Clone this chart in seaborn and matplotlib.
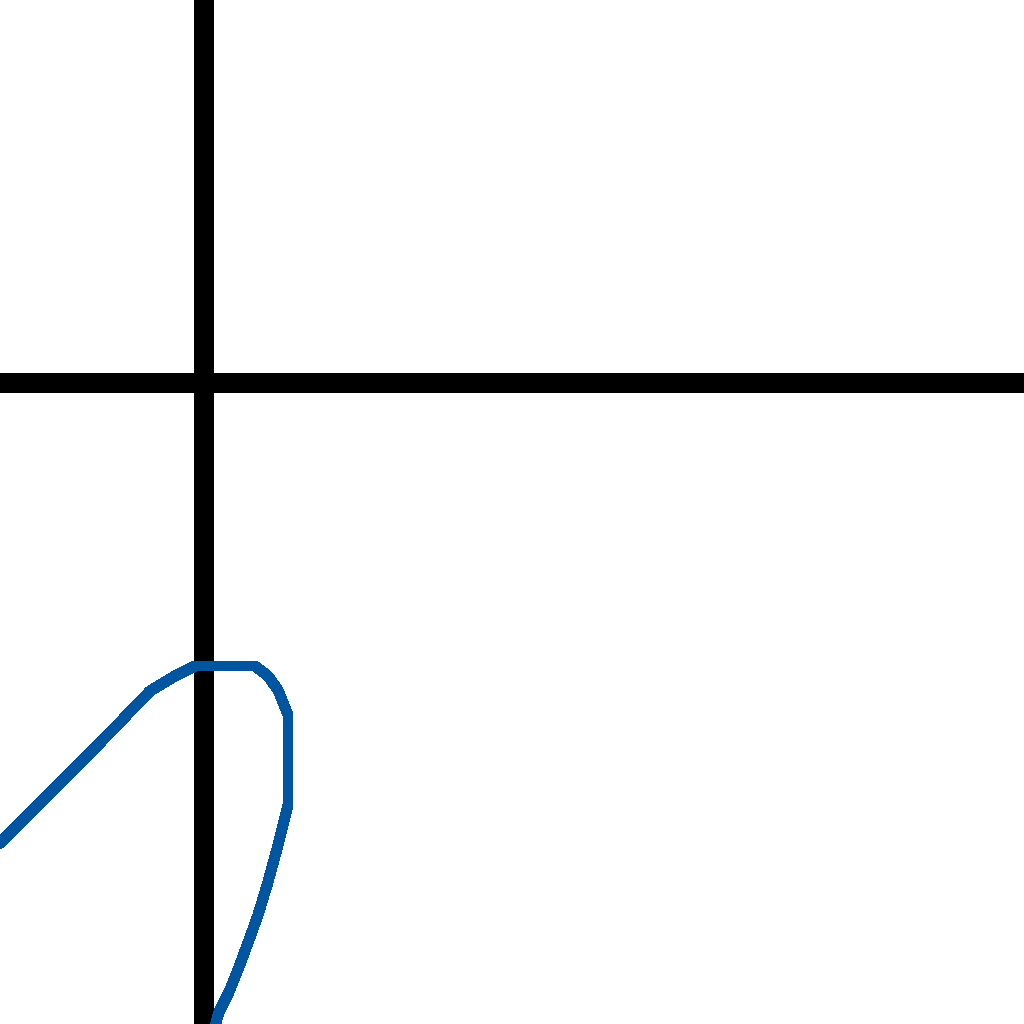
import numpy as np
import pandas as pd
import matplotlib
matplotlib.use("Agg")
import matplotlib.pyplot as plt
import seaborn as sns

# curve (axes cross at 0, 1 unit = 100 px)
curve_x = [-2.14, -2.04, -1.54, -1.04, -0.54, -0.29, -0.09, 0.21, 0.51, 0.64,
           0.74, 0.84, 0.84, 0.84, 0.74, 0.64, 0.54, 0.45, 0.35, 0.25, 0.15, 0.10]
curve_y = [-4.70, -4.60, -4.10, -3.60, -3.08, -2.93, -2.83, -2.83, -2.83, -2.93,
           -3.07, -3.32, -3.77, -4.22, -4.62, -4.99, -5.32, -5.57, -5.84, -6.09,
           -6.29, -6.47]

df = pd.DataFrame({"x": curve_x, "y": curve_y})

sns.set_style("white")
fig = plt.figure(figsize=(10.24, 10.24), dpi=100)
ax = fig.add_axes([0, 0, 1, 1])

ax.axhline(0, color="black", linewidth=14.4, antialiased=False)
ax.axvline(0, color="black", linewidth=14.4, antialiased=False)
sns.lineplot(data=df, x="x", y="y", sort=False, estimator=None, ax=ax,
             color="#0055a0", linewidth=7.2, antialiased=False)

ax.set_xlim(-2.04, 8.20)
ax.set_ylim(-6.41, 3.83)
ax.axis("off")

fig.savefig("out.png", dpi=100)
